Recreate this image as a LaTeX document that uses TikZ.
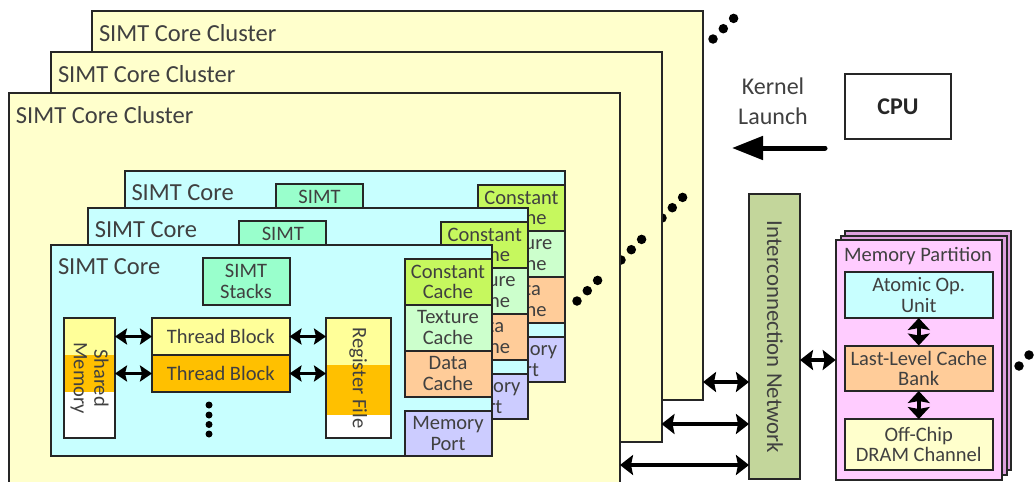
\documentclass[tikz,border=0pt]{standalone}
\usepackage{fontspec}
\setmainfont{Carlito}
\usetikzlibrary{arrows.meta,positioning,calc}
\definecolor{ink}{HTML}{404040}
\definecolor{clusterfill}{HTML}{FFFFCC}
\definecolor{corefill}{HTML}{C8FFFF}
\definecolor{stackfill}{HTML}{99FFCC}
\definecolor{constfill}{HTML}{C6F85E}
\definecolor{texfill}{HTML}{CCFFCC}
\definecolor{datafill}{HTML}{FFCC99}
\definecolor{portfill}{HTML}{CCCCFF}
\definecolor{tbyellow}{HTML}{FFFF99}
\definecolor{tborange}{HTML}{FFC000}
\definecolor{netfill}{HTML}{C3D69B}
\definecolor{partfill}{HTML}{FFCCFF}
\definecolor{partback}{HTML}{DDA0DD}
\tikzset{
  x=1pt,y=-1pt,
  every node/.style={font=\fontsize{20.5}{20.5}\selectfont,text=ink,outer sep=0pt},
  box/.style={draw=black!85,line width=2pt,inner sep=0pt,anchor=north west,align=center},
  label text/.style={inner sep=0pt,anchor=west,font=\fontsize{24.5}{26}\selectfont},
  dbl/.style={draw=black,line width=3.8pt,{Stealth[length=12pt,width=16pt,inset=2pt]}-{Stealth[length=12pt,width=16pt,inset=2pt]}},
  dblbig/.style={draw=black,line width=4.8pt,{Stealth[length=13pt,width=20pt,inset=2pt]}-{Stealth[length=13pt,width=20pt,inset=2pt]}},
  dblv/.style={draw=black,line width=4.4pt,{Stealth[length=12pt,width=22pt,inset=2pt]}-{Stealth[length=12pt,width=22pt,inset=2pt]}},
  dotmark/.style={fill=black,draw=none,circle,minimum size=9.5pt,inner sep=0pt},
}
\newcommand{\threedots}[3]{%
  \node[dotmark] (#1a) at (#2,#3) {};
  \node[dotmark] (#1b) at (#2+10.3,#3-10.3) {};
  \node[dotmark] (#1c) at (#2+20.6,#3-20.6) {};
}
\newcommand{\corelayer}[3]{%
  \begin{scope}[shift={(#2,#3)}]
    \node[box,fill=corefill,minimum width=440.5pt,minimum height=211pt] (#1core) at (51,245) {};
    \node[label text] (#1title) at (58,267) {SIMT Core};
    \node[box,fill=stackfill,minimum width=87pt,minimum height=47pt] (#1stack) at (202.5,258) {SIMT\\Stacks};
    \node[box,fill=constfill,minimum width=87pt,minimum height=45.5pt] (#1const) at (404.5,259) {Constant\\Cache};
    \node[box,fill=texfill,minimum width=87pt,minimum height=46pt] (#1tex) at (404.5,304.5) {Texture\\Cache};
    \node[box,fill=datafill,minimum width=87pt,minimum height=46pt] (#1data) at (404.5,350.5) {Data\\Cache};
    \node[box,fill=portfill,minimum width=87pt,minimum height=45.5pt] (#1port) at (404.5,410.5) {Memory\\Port};
  \end{scope}
}
\begin{document}
\begin{tikzpicture}
\useasboundingbox (0,0) rectangle (1034,482);
% clusters and the stacks of dots between them
\node[box,fill=clusterfill,minimum width=611pt,minimum height=389pt] (cl3) at (92,11) {};
\node[label text] (cl3t) at (99,33) {SIMT Core Cluster};
\threedots{d1}{713}{39}
\threedots{d4}{662}{218}
\node[box,fill=clusterfill,minimum width=610.5pt,minimum height=390pt] (cl2) at (51,52) {};
\node[label text] (cl2t) at (58,74) {SIMT Core Cluster};
\threedots{d3}{621}{260}
\node[box,fill=clusterfill,minimum width=611pt,minimum height=392pt] (cl1) at (9,93) {};
\node[label text] (cl1t) at (16,115) {SIMT Core Cluster};
% back cores
\corelayer{cc}{73.5}{-74}
\corelayer{cb}{36.8}{-37}
\corelayer{ca}{0}{0}
\threedots{d2}{577}{301}
% front-core interior
\fill[tbyellow] (64,318) rectangle (115,355);
\fill[tborange] (64,355) rectangle (115,392);
\fill[white] (64,392) rectangle (115,438);
\node[box,minimum width=51pt,minimum height=120pt] (sm) at (64,318) {};
\node[rotate=-90,align=center,inner sep=0pt] (smt) at (sm.center) {Shared\\Memory};
\fill[tbyellow] (326,318) rectangle (390.5,365);
\fill[tborange] (326,365) rectangle (390.5,415);
\fill[white] (326,415) rectangle (390.5,438);
\node[box,minimum width=64.5pt,minimum height=120pt] (rf) at (326,318) {};
\node[rotate=-90,inner sep=0pt] (rft) at (rf.center) {Register File};
\node[box,fill=tbyellow,minimum width=137.5pt,minimum height=37pt] (tb1) at (152,318) {Thread Block};
\node[box,fill=tborange,minimum width=137.5pt,minimum height=37pt] (tb2) at (152,355) {Thread Block};
\node[dotmark,minimum size=7pt] (v1) at (209,405) {};
\node[dotmark,minimum size=7pt] (v2) at (209,415) {};
\node[dotmark,minimum size=7pt] (v3) at (209,424.5) {};
\node[dotmark,minimum size=7pt] (v4) at (209,434) {};
\draw[dbl] (tb1.west -| sm.east) -- (tb1.west);
\draw[dbl] (tb2.west -| sm.east) -- (tb2.west);
\draw[dbl] (tb1.east) -- (tb1.east -| rf.west);
\draw[dbl] (tb2.east) -- (tb2.east -| rf.west);
% interconnect
\node[box,fill=netfill,minimum width=51pt,minimum height=285pt] (net) at (749,194) {};
\node[rotate=-90,inner sep=0pt,font=\fontsize{22.8}{24}\selectfont] (nett) at (775,337) {Interconnection Network};
\coordinate (l3) at (749,382);
\coordinate (l2) at (749,424);
\coordinate (l1) at (749,465);
\draw[dblbig] (l3 -| cl3.east) -- (l3);
\draw[dblbig] (l2 -| cl2.east) -- (l2);
\draw[dblbig] (l1 -| cl1.east) -- (l1);
% memory partition
\node[box,fill=partback,minimum width=166pt,minimum height=239pt] (mp3) at (845,231) {};
\node[box,fill=partback,minimum width=166pt,minimum height=239.5pt] (mp2) at (840.5,235.5) {};
\node[box,fill=partfill,minimum width=166pt,minimum height=240pt] (mp1) at (835.7,240) {};
\node[anchor=center,inner sep=0pt] (mpt) at (918,256) {Memory Partition};
\node[box,fill=corefill,minimum width=147.5pt,minimum height=46pt] (atom) at (845,272) {Atomic Op.\\Unit};
\node[box,fill=datafill,minimum width=147.5pt,minimum height=45.5pt] (llc) at (845,345.5) {Last-Level Cache\\Bank};
\node[box,fill=clusterfill,minimum width=147.5pt,minimum height=51pt] (dram) at (845,419) {Off-Chip\\DRAM Channel};
\draw[dblv] (atom.south) -- (llc.north);
\draw[dblv] (llc.south) -- (dram.north);
\coordinate (np) at (800,360);
\draw[dblbig] (np) -- (np -| mp1.west);
\node[dotmark] (e1) at (1019,366) {};
\node[dotmark] (e2) at (1029,355) {};
% CPU
\node[box,minimum width=106pt,minimum height=65pt,font=\fontsize{24}{26}\selectfont\bfseries,text=black!85] (cpu) at (845,74) {CPU};
\node[align=center,inner sep=0pt,font=\fontsize{24}{30}\selectfont] (kl) at (773,101) {Kernel\\Launch};
\coordinate (ks) at (825,148);
\coordinate (ke) at (732,148);
\draw[draw=black,line width=5pt,line cap=round,-{Stealth[length=31pt,width=23pt,inset=0pt]}] (ks) -- (ke);
\end{tikzpicture}
\end{document}
